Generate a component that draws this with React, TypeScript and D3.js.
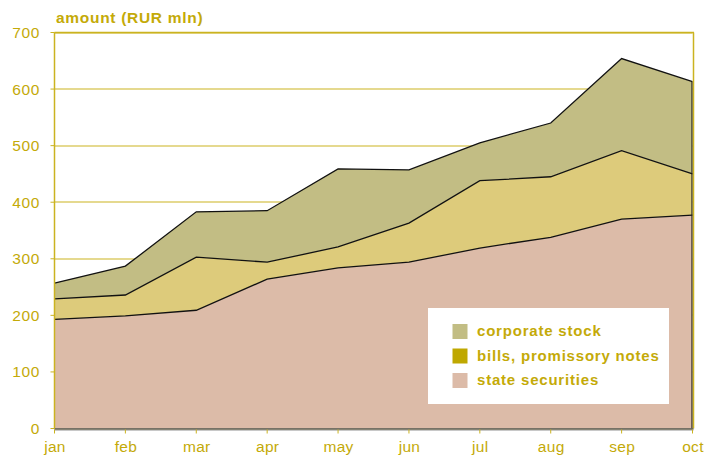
import React from "react";
import * as d3 from "d3";

const months = ["jan", "feb", "mar", "apr", "may", "jun", "jul", "aug", "sep", "oct"];
const stateSecurities = [193, 199, 209, 264, 284, 294, 319, 338, 370, 377];
const billsNotes = [36, 37, 94, 30, 37, 69, 119, 107, 121, 73];
const corporateStock = [28, 51, 80, 91, 138, 94, 67, 95, 163, 163];
const yTicks = [0, 100, 200, 300, 400, 500, 600, 700];

const seriesKeys = ["state", "bills", "corporate"];
const seriesColors = { state: "#dcbba8", bills: "#ddcb7b", corporate: "#c2bd84" };
const legendItems = [
  { label: "corporate stock", color: "#c2bd84" },
  { label: "bills, promissory notes", color: "#bfa800" },
  { label: "state securities", color: "#dcbba8" },
];

const GOLD_TEXT = "#c4aa08";
const GOLD_LINE = "#cbb320";
const FONT = "'Liberation Sans', Arial, Helvetica, sans-serif";

export default function App() {
  const W = 704, H = 455;
  const x0 = 54.5, x1 = 692.5, yTop = 32.5, yBot = 428.5;
  const x = d3.scalePoint<string>().domain(months).range([x0, x1]);
  const y = d3.scaleLinear().domain([0, 700]).range([yBot, yTop]);

  const table = months.map((m, i) => ({
    month: m,
    state: stateSecurities[i],
    bills: billsNotes[i],
    corporate: corporateStock[i],
  }));
  const stacked = d3.stack<any>().keys(seriesKeys)(table);

  const area = d3
    .area<any>()
    .x((d) => x(d.data.month) as number)
    .y0((d) => y(d[0]))
    .y1((d) => y(d[1]));
  const line = d3
    .line<any>()
    .x((d) => x(d.data.month) as number)
    .y((d) => y(d[1]));

  const topLast = stacked[stacked.length - 1];
  const lastPt = topLast[topLast.length - 1];

  return (
    <svg width={W} height={H} style={{ position: "absolute", left: 0, top: 0, display: "block" }}>
      <rect x={0} y={0} width={W} height={H} fill="#ffffff" />
      {/* gridlines */}
      {yTicks.map((t) => (
        <line key={"g" + t} x1={x0} x2={x1} y1={Math.round(y(t))} y2={Math.round(y(t))} stroke={GOLD_LINE} strokeWidth={1.1} />
      ))}
      {/* areas */}
      {stacked.map((s) => (
        <path key={s.key} d={area(s) as string} fill={(seriesColors as any)[s.key]} />
      ))}
      {stacked.map((s) => (
        <path key={"l" + s.key} d={line(s) as string} fill="none" stroke="#111" strokeWidth={1.3} />
      ))}
      <line x1={x1 - 0.5} x2={x1 - 0.5} y1={y(lastPt[1])} y2={yBot} stroke="#222" strokeWidth={1.2} />
      {/* frame */}
      <line x1={x0} x2={x0} y1={yTop} y2={yBot} stroke={GOLD_LINE} strokeWidth={1.5} />
      <line x1={x1 + 1} x2={x1 + 1} y1={yTop} y2={yBot} stroke={GOLD_LINE} strokeWidth={1.5} />
      <line x1={x0} x2={x1 + 1.5} y1={yTop} y2={yTop} stroke={GOLD_LINE} strokeWidth={1.5} />
      <line x1={x0} x2={x1 + 1} y1={yBot + 0.5} y2={yBot + 0.5} stroke="#555" strokeWidth={1.5} />
      <line x1={x0} x2={x1 + 1} y1={yBot + 1.8} y2={yBot + 1.8} stroke="#bbb" strokeWidth={1} />
      {/* y ticks */}
      {yTicks.map((t) => (
        <g key={"yt" + t}>
          <line x1={x0 - 4} x2={x0} y1={y(t)} y2={y(t)} stroke={GOLD_LINE} strokeWidth={1} />
          <text x={40} y={y(t) + 5.5} textAnchor="end" fill={GOLD_TEXT} fontFamily={FONT} fontSize={15.5} letterSpacing={0.6}>
            {t}
          </text>
        </g>
      ))}
      {/* x ticks */}
      {months.map((m) => (
        <g key={"xt" + m}>
          <line x1={x(m)} x2={x(m)} y1={yBot + 1} y2={yBot + 5} stroke={GOLD_LINE} strokeWidth={1} />
          <text x={(x(m) as number) + 0.5} y={452} textAnchor="middle" fill={GOLD_TEXT} fontFamily={FONT} fontSize={15.5} letterSpacing={0.3}>
            {m}
          </text>
        </g>
      ))}
      {/* title */}
      <text x={56} y={23} fill={GOLD_TEXT} fontFamily={FONT} fontSize={15.5} fontWeight="bold" letterSpacing={0.7}>
        amount (RUR mln)
      </text>
      {/* legend */}
      <rect x={428} y={308} width={241} height={96} fill="#ffffff" />
      {legendItems.map((it, i) => (
        <g key={it.label}>
          <rect x={452.5} y={324 + i * 24.5} width={15} height={15} fill={it.color} />
          <text x={477} y={336 + i * 24.5} fill={GOLD_TEXT} fontFamily={FONT} fontSize={15} fontWeight="bold" letterSpacing={0.8}>
            {it.label}
          </text>
        </g>
      ))}
    </svg>
  );
}
